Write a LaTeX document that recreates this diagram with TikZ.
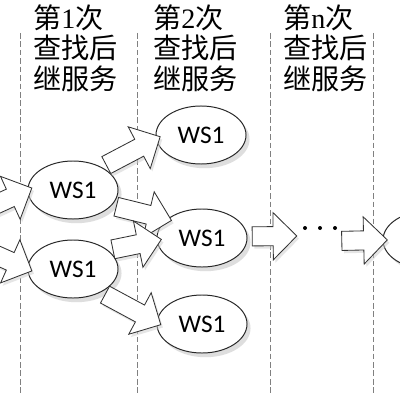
\documentclass[tikz,border=0pt]{standalone}
\usepackage{fontspec}
\setmainfont{Liberation Serif}
\newfontfamily\cjk{Noto Sans CJK SC}
\newfontfamily\wsfont{Carlito}
\usetikzlibrary{calc,shapes.geometric,shapes.arrows,shadows}
\tikzset{
 ws/.style={ellipse,draw=black!85,line width=.7pt,fill=white,minimum width=2.25cm,minimum height=1.45cm,inner sep=0pt,font=\wsfont\fontsize{18}{20}\selectfont,drop shadow={shadow xshift=2.5pt,shadow yshift=-3pt,fill=black!25}},
 push/.style={single arrow,draw=black!80,line width=.6pt,fill=white,inner sep=6.5pt,single arrow head extend=10pt,single arrow tip angle=90,drop shadow={shadow xshift=1.5pt,shadow yshift=-2pt,fill=black!20}},
 roundtxt/.style={anchor=north west,align=left,inner sep=0pt,font=\cjk\fontsize{20}{22}\selectfont},
 sep/.style={draw=black!50,dashed,dash pattern=on 4pt off 2pt,line width=.6pt}
}
\newcommand\pushto[2]{\path let \p1=($(#2)-(#1)$),\n1={atan2(\y1,\x1)},\n2={veclen(\x1,\y1)} in node[push,minimum height=\n2,rotate=\n1] at ($(#1)!.5!(#2)$){};}
\begin{document}
\begin{tikzpicture}[x=.025cm,y=-.025cm]
\useasboundingbox(0,0)rectangle(400,400);\clip(0,0)rectangle(400,400);
\fill[white](0,0)rectangle(400,400);
\draw[sep](20,33)--(20,393);\draw[sep](137,33)--(137,393);\draw[sep](270,33)--(270,393);\draw[sep](373,33)--(373,393);
\node[roundtxt](t1)at(33,4){第{\rmfamily 1}次\\查找后\\继服务};
\node[roundtxt](t2)at(153,4){第{\rmfamily 2}次\\查找后\\继服务};
\node[roundtxt](tn)at(283,4){第{\rmfamily n}次\\查找后\\继服务};
\coordinate(src)at(-60,230);\coordinate(c1)at(292,236);\coordinate(c2)at(337,241);
\node[ws](a1)at(73,190){WS1};\node[ws](a2)at(73,269){WS1};
\node[ws](b1)at(201,135){WS1};\node[ws](b2)at(202,238){WS1};\node[ws](b3)at(202,324){WS1};
\node[ws](r1)at(428,240){};
\pushto{src}{a1.180}\pushto{src}{a2.180}
\pushto{a1.38}{b1.185}\pushto{a1.-22}{b2.152}
\pushto{a2.28}{b2.183}\pushto{a2.-40}{b3.178}
\pushto{b2.2}{c1}\pushto{c2}{r1.180}
\foreach \x in {305,320,335}\fill(\x,228)circle(2);
\end{tikzpicture}
\end{document}
